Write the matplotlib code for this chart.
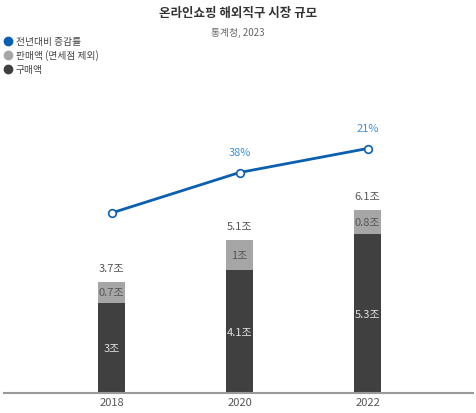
import matplotlib.pyplot as plt
from matplotlib.lines import Line2D

plt.rcParams["font.family"] = ["Noto Sans CJK KR", "DejaVu Sans"]

years = ["2018", "2020", "2022"]
purchase = [3.0, 4.1, 5.3]          # 구매액 (조)
sales = [0.7, 1.0, 0.8]             # 판매액 (면세점 제외)
totals = [3.7, 5.1, 6.1]
purchase_labels = ["3조", "4.1조", "5.3조"]
sales_labels = ["0.7조", "1조", "0.8조"]
total_labels = ["3.7조", "5.1조", "6.1조"]
growth_height = [6.0, 7.35, 8.15]   # 선 높이
growth_labels = ["", "38%", "21%"]

BLUE = "#0B5FB0"
LBLUE = "#3D8FDB"
GRAY = "#A6A6A6"
DARK = "#404040"
TXT = "#555555"

W, H = 476, 414
fig = plt.figure(figsize=(W / 100, H / 100), dpi=100)
ax = fig.add_axes([4 / W, 1 - 394 / H, 469 / W, 294 / H])
x = list(range(len(years)))
bw = 27 / 128

ax.bar(x, purchase, width=bw, color=DARK, zorder=2)
ax.bar(x, sales, width=bw, bottom=purchase, color=GRAY, zorder=2)
ax.plot(x, growth_height, color=BLUE, lw=2.0, marker="o", ms=5.5,
        mfc="white", mec=BLUE, mew=1.2, zorder=3)

for i in x:
    ax.text(i, purchase[i] / 2, purchase_labels[i], ha="center", va="center",
            fontsize=8, color="#E2E2E2")
    ax.text(i, purchase[i] + sales[i] / 2, sales_labels[i], ha="center",
            va="center", fontsize=8, color=TXT)
    ax.text(i, totals[i] + 0.3, total_labels[i], ha="center", va="bottom",
            fontsize=8, color=TXT)
    if growth_labels[i]:
        ax.text(i, growth_height[i] + 0.5, growth_labels[i], ha="center",
                va="bottom", fontsize=8, color=LBLUE)

ax.set_xlim(-0.84, -0.84 + 469 / 128)
ax.set_ylim(0, 294 / 30)
ax.set_xticks(x, years)
ax.tick_params(axis="x", length=0, pad=3, labelsize=8, labelcolor=TXT)
ax.set_yticks([])
for s in ["top", "right", "left"]:
    ax.spines[s].set_visible(False)
ax.spines["bottom"].set_color("#999999")
ax.spines["bottom"].set_linewidth(1.5)
ax.spines["bottom"].set_zorder(4)

fig.text(0.5, 1 - 14 / H, "온라인쇼핑 해외직구 시장 규모", ha="center", va="center",
         fontsize=9, fontweight="bold", color="#333333")
fig.text(0.5, 1 - 33 / H, "통계청, 2023", ha="center", va="center",
         fontsize=7, color="#666666")

legend_items = [("전년대비 증감률", BLUE), ("판매액 (면세점 제외)", GRAY), ("구매액", DARK)]
for k, (lab, col) in enumerate(legend_items):
    yy = 1 - (42 + 14 * k) / H
    fig.add_artist(Line2D([8 / W], [yy], marker="o", ms=6, color=col,
                          transform=fig.transFigure))
    fig.text(16 / W, yy, lab, ha="left", va="center", fontsize=7, color="#444444")

fig.savefig("out.png", dpi=100, facecolor="white")
